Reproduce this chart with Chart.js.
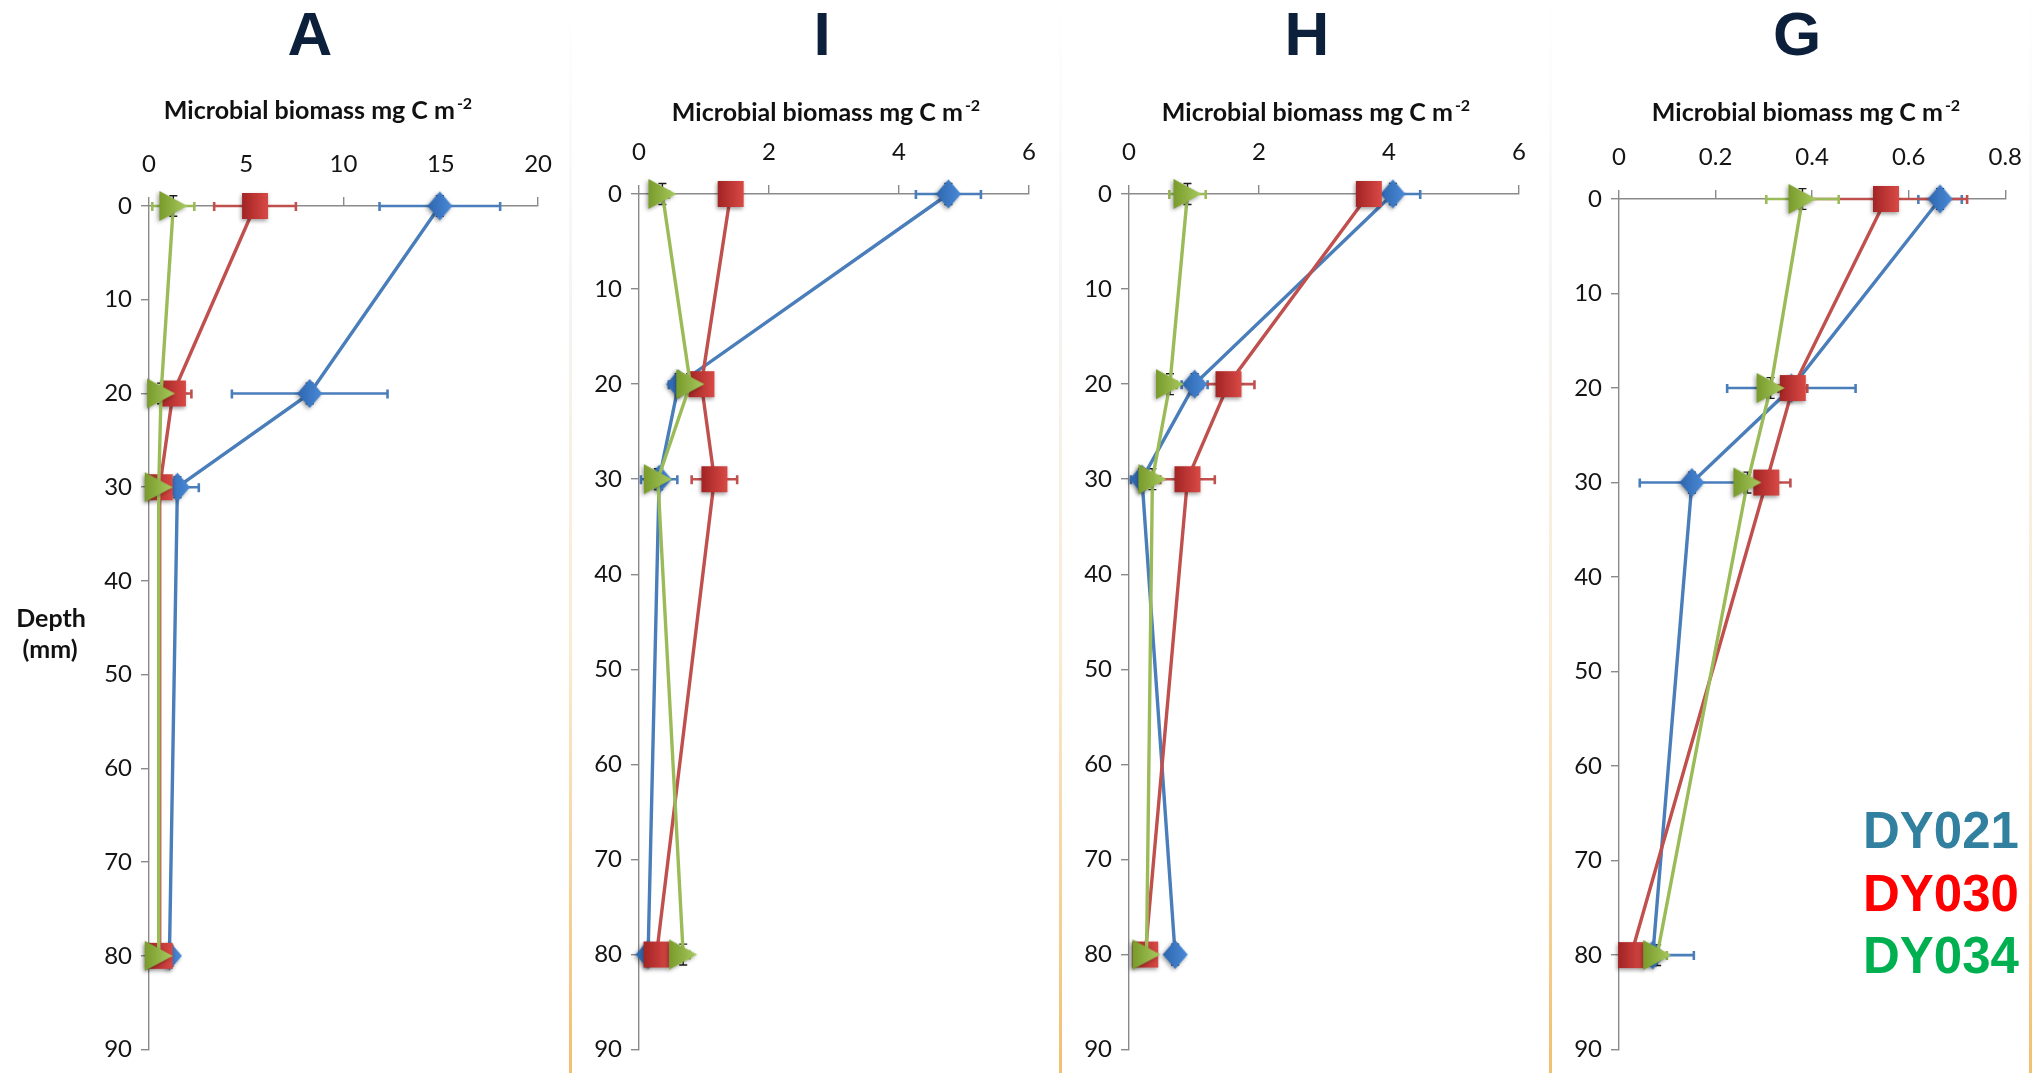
<!DOCTYPE html>
<html>
<head>
<meta charset="utf-8">
<script src="https://cdn.jsdelivr.net/npm/chart.js@4.4.1/dist/chart.umd.min.js"></script>
<style>
  html, body { margin: 0; padding: 0; background: #ffffff; }
  body { width: 2040px; height: 1073px; position: relative; overflow: hidden; }
  canvas { position: absolute; top: 0; }
  .sep {
    position: absolute; top: 0; width: 3px; height: 1073px;
    background: linear-gradient(to bottom,
      rgba(230,230,230,0) 0%, rgba(230,230,230,0.45) 28%,
      rgba(246,220,175,0.55) 60%, rgba(240,188,105,0.95) 100%);
  }
</style>
</head>
<body>
<canvas id="cA" width="570" height="1073" style="left:0px;width:570px;height:1073px"></canvas>
<canvas id="cI" width="490" height="1073" style="left:570px;width:490px;height:1073px"></canvas>
<canvas id="cH" width="490" height="1073" style="left:1060px;width:490px;height:1073px"></canvas>
<canvas id="cG" width="490" height="1073" style="left:1550px;width:490px;height:1073px"></canvas>
<div class="sep" style="left:569px"></div>
<div class="sep" style="left:1059px"></div>
<div class="sep" style="left:1549px"></div>
<div class="sep" style="left:2029px"></div>

<script>
// Sampling depths (mm) and depth axis ticks
const DEPTHS = [0, 20, 30, 80];
const DEPTH_TICKS = [0, 10, 20, 30, 40, 50, 60, 70, 80, 90];
const DEPTH_ERR = 1.1;   // small vertical error bar on every point (mm)
const SERIES_NAMES = ['DY021', 'DY030', 'DY034'];

const AXIS_TITLE = 'Microbial biomass mg C m';
const AXIS_TITLE_SUP = '-2';
const DEPTH_LABEL = ['Depth', '(mm)'];

// Station A
const A_TICKS = [0, 5, 10, 15, 20];
const A_DY021 = [14.95, 8.26, 1.46, 1.05];
const A_DY021_ERR = [3.1, 4.0, 1.1, 0.3];
const A_DY030 = [5.45, 1.23, 0.55, 0.55];
const A_DY030_ERR = [2.1, 0.95, 0.3, 0.2];
const A_DY034 = [1.25, 0.62, 0.5, 0.5];
const A_DY034_ERR = [1.08, 0.3, 0.3, 0.2];

// Station I
const I_TICKS = [0, 2, 4, 6];
const I_DY021 = [4.76, 0.61, 0.31, 0.14];
const I_DY021_ERR = [0.5, 0.15, 0.28, 0.08];
const I_DY030 = [1.41, 0.96, 1.16, 0.27];
const I_DY030_ERR = [0.12, 0.15, 0.35, 0.1];
const I_DY034 = [0.36, 0.79, 0.29, 0.68];
const I_DY034_ERR = [0.1, 0.1, 0.1, 0.1];

// Station H
const H_TICKS = [0, 2, 4, 6];
const H_DY021 = [4.06, 1.01, 0.2, 0.71];
const H_DY021_ERR = [0.42, 0.2, 0.17, 0.08];
const H_DY030 = [3.69, 1.53, 0.9, 0.25];
const H_DY030_ERR = [0.1, 0.4, 0.42, 0.1];
const H_DY034 = [0.9, 0.63, 0.36, 0.27];
const H_DY034_ERR = [0.28, 0.1, 0.1, 0.05];

// Station G
const G_TICKS = [0, 0.2, 0.4, 0.6, 0.8];
const G_DY021 = [0.665, 0.357, 0.151, 0.07];
const G_DY021_ERR = [0.045, 0.133, 0.108, 0.085];
const G_DY030 = [0.553, 0.36, 0.305, 0.025];
const G_DY030_ERR = [0.168, 0.03, 0.05, 0.02];
const G_DY034 = [0.38, 0.314, 0.266, 0.079];
const G_DY034_ERR = [0.075, 0.02, 0.02, 0.02];

// ---- styling ----
const LINE_COLORS = ['#4a7ebb', '#c0504d', '#9bbb59'];
const AXIS_COLOR = '#8a8a8a';
const TICK_FONT = { family: 'Lato, "Open Sans", sans-serif', size: 24 };
const LABEL_FONT = 'bold 25px Lato, "Open Sans", sans-serif';
const SUP_FONT = 'bold 16px Lato, "Open Sans", sans-serif';
const LEGEND_COLORS = ['#31809f', '#ff0000', '#00b050'];

// Shaded marker bitmaps used as Chart.js point styles
function makeMarker(kind, c1, c2) {
  const pad = 6;
  const dims = { diamond: [25, 29], square: [26, 26], triangle: [28, 30] }[kind];
  const w = dims[0], h = dims[1];
  const cv = document.createElement('canvas');
  cv.width = w + pad * 2; cv.height = h + pad * 2;
  const g = cv.getContext('2d');
  g.shadowColor = 'rgba(0,0,0,0.38)';
  g.shadowBlur = 4; g.shadowOffsetX = -1.5; g.shadowOffsetY = 1.5;
  const grad = g.createLinearGradient(pad, 0, pad + w, 0);
  grad.addColorStop(0, c1); grad.addColorStop(1, c2);
  g.fillStyle = grad;
  g.beginPath();
  if (kind === 'diamond') {
    g.moveTo(pad + w / 2, pad); g.lineTo(pad + w, pad + h / 2);
    g.lineTo(pad + w / 2, pad + h); g.lineTo(pad, pad + h / 2);
  } else if (kind === 'square') {
    g.rect(pad, pad, w, h);
  } else {
    g.moveTo(pad, pad); g.lineTo(pad + w, pad + h / 2); g.lineTo(pad, pad + h);
  }
  g.closePath(); g.fill();
  return cv;
}
const MARKERS = [
  makeMarker('diamond', '#2d66ae', '#4b8ad8'),
  makeMarker('square', '#a22424', '#d94a46'),
  makeMarker('triangle', '#789b2b', '#a9ca60')
];

// Horizontal (biomass) error bars with caps, plus the small depth bars
const errorBarPlugin = {
  id: 'errorBars',
  beforeDatasetsDraw(chart) {
    const { ctx, scales: { x, y } } = chart;
    ctx.save();
    chart.data.datasets.forEach(ds => {
      ds.data.forEach(p => {
        const y1 = y.getPixelForValue(p.y - DEPTH_ERR), y2 = y.getPixelForValue(p.y + DEPTH_ERR);
        const px = x.getPixelForValue(p.x);
        ctx.strokeStyle = '#1b1b1b'; ctx.lineWidth = 1.4;
        ctx.beginPath();
        ctx.moveTo(px, y1); ctx.lineTo(px, y2);
        ctx.moveTo(px - 4, y1); ctx.lineTo(px + 4, y1);
        ctx.moveTo(px - 4, y2); ctx.lineTo(px + 4, y2);
        ctx.stroke();
      });
    });
    chart.data.datasets.forEach(ds => {
      ds.data.forEach((p, i) => {
        const e = ds.errors[i];
        const py = y.getPixelForValue(p.y);
        const xl = x.getPixelForValue(Math.max(0, p.x - e));
        const xr = x.getPixelForValue(p.x + e);
        ctx.strokeStyle = ds.borderColor; ctx.lineWidth = 2.6;
        ctx.beginPath();
        ctx.moveTo(xl, py); ctx.lineTo(xr, py);
        if (p.x - e >= 0) { ctx.moveTo(xl, py - 4); ctx.lineTo(xl, py + 5); }
        ctx.moveTo(xr, py - 4); ctx.lineTo(xr, py + 5);
        ctx.stroke();
      });
    });
    ctx.restore();
  }
};

// Panel letter, axis title, depth label and station legend
const panelTextPlugin = {
  id: 'panelText',
  afterDraw(chart, args, o) {
    const ctx = chart.ctx;
    ctx.save();
    ctx.textBaseline = 'alphabetic';
    ctx.fillStyle = '#0c1f3b';
    ctx.textAlign = 'center';
    ctx.font = 'bold 62px "Liberation Sans", Arial, sans-serif';
    ctx.fillText(o.letter, o.letterX, 55);

    ctx.fillStyle = '#111111';
    ctx.font = LABEL_FONT;
    const wMain = ctx.measureText(AXIS_TITLE).width;
    ctx.font = SUP_FONT;
    const wSup = ctx.measureText(AXIS_TITLE_SUP).width;
    const x0 = o.titleX - (wMain + wSup + 2) / 2;
    ctx.textAlign = 'left';
    ctx.font = LABEL_FONT;
    ctx.fillText(AXIS_TITLE, x0, o.titleY);
    ctx.font = SUP_FONT;
    ctx.fillText(AXIS_TITLE_SUP, x0 + wMain + 2, o.titleY - 10);

    if (o.depthLabel) {
      ctx.textAlign = 'center';
      ctx.font = LABEL_FONT;
      ctx.fillText(DEPTH_LABEL[0], 51, 627);
      ctx.fillText(DEPTH_LABEL[1], 50, 658);
    }
    if (o.legend) {
      ctx.textAlign = 'left';
      ctx.font = 'bold 51px "Liberation Sans", Arial, sans-serif';
      SERIES_NAMES.forEach((n, k) => {
        ctx.fillStyle = LEGEND_COLORS[k];
        ctx.fillText(n, o.legendX, 848 + k * 62.5);
      });
    }
    ctx.restore();
  }
};

const fmtTick = v => String(Number(v.toFixed(2)));

function buildPanel(def) {
  const cv = document.getElementById(def.id);
  const W = cv.width, H = cv.height;
  const a = def.area;
  return new Chart(cv, {
    type: 'line',
    data: {
      datasets: def.series.map((vals, k) => ({
        label: SERIES_NAMES[k],
        data: DEPTHS.map((d, i) => ({ x: vals[i], y: d })),
        errors: def.errs[k],
        borderColor: LINE_COLORS[k],
        backgroundColor: LINE_COLORS[k],
        borderWidth: 3.4,
        pointStyle: MARKERS[k],
        pointRadius: 12,
        tension: 0,
        fill: false,
        clip: false,
        order: 3 - k
      }))
    },
    options: {
      responsive: false,
      animation: false,
      events: [],
      layout: { padding: { left: 0, top: 0, right: W - a.r, bottom: H - a.b } },
      plugins: {
        legend: { display: false },
        tooltip: { enabled: false },
        panelText: def.text
      },
      scales: {
        x: {
          type: 'linear', position: 'top', min: 0, max: def.ticks[def.ticks.length - 1],
          afterBuildTicks: s => { s.ticks = def.ticks.map(v => ({ value: v })); },
          afterFit: s => { s.height = a.t; },
          ticks: { font: TICK_FONT, color: '#141414', padding: 18, maxRotation: 0, autoSkip: false, callback: fmtTick },
          grid: { drawOnChartArea: false, drawTicks: true, tickLength: 9, color: AXIS_COLOR, lineWidth: 1.4 },
          border: { display: true, color: AXIS_COLOR, width: 1.4 }
        },
        y: {
          type: 'linear', position: 'left', reverse: true, min: 0, max: 90,
          afterBuildTicks: s => { s.ticks = DEPTH_TICKS.map(v => ({ value: v })); },
          afterFit: s => { s.width = a.l; },
          ticks: { font: TICK_FONT, color: '#141414', padding: 9, autoSkip: false, callback: fmtTick },
          grid: { drawOnChartArea: false, drawTicks: true, tickLength: 8, color: AXIS_COLOR, lineWidth: 1.4 },
          border: { display: true, color: AXIS_COLOR, width: 1.4 }
        }
      }
    },
    plugins: [errorBarPlugin, panelTextPlugin]
  });
}

buildPanel({
  id: 'cA', area: { l: 149, r: 539, t: 206, b: 1058.5 }, ticks: A_TICKS,
  series: [A_DY021, A_DY030, A_DY034], errs: [A_DY021_ERR, A_DY030_ERR, A_DY034_ERR],
  text: { letter: 'A', letterX: 310, titleX: 318, titleY: 119, depthLabel: true }
});
buildPanel({
  id: 'cI', area: { l: 69, r: 459, t: 194, b: 1061 }, ticks: I_TICKS,
  series: [I_DY021, I_DY030, I_DY034], errs: [I_DY021_ERR, I_DY030_ERR, I_DY034_ERR],
  text: { letter: 'I', letterX: 252, titleX: 256, titleY: 121 }
});
buildPanel({
  id: 'cH', area: { l: 69, r: 459, t: 194, b: 1061 }, ticks: H_TICKS,
  series: [H_DY021, H_DY030, H_DY034], errs: [H_DY021_ERR, H_DY030_ERR, H_DY034_ERR],
  text: { letter: 'H', letterX: 247, titleX: 256, titleY: 121 }
});
buildPanel({
  id: 'cG', area: { l: 69, r: 458, t: 199, b: 1061.5 }, ticks: G_TICKS,
  series: [G_DY021, G_DY030, G_DY034], errs: [G_DY021_ERR, G_DY030_ERR, G_DY034_ERR],
  text: { letter: 'G', letterX: 247, titleX: 256, titleY: 121, legend: true, legendX: 313 }
});
</script>
</body>
</html>
